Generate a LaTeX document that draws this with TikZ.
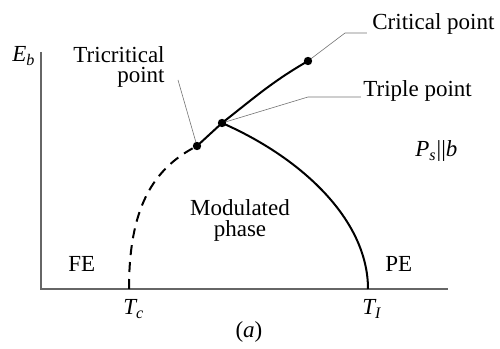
\documentclass[tikz,border=0pt]{standalone}
\usepackage{amsmath}
\usepackage{fontspec}
\setmainfont{Liberation Serif}
\usepackage{tikz}

\begin{document}
\begin{tikzpicture}[x=0.5pt,y=0.5pt,every node/.style={font=\fontsize{11.5}{10}\selectfont,inner sep=0pt},
  axis/.style={black!60,line width=0.6pt},
  phaseline/.style={line width=1pt},
  leader/.style={black!55,line width=0.3pt}]
  \useasboundingbox (0,0) rectangle (500,349);
  \coordinate (o) at (41,60);
  \coordinate (ytop) at (41,297);
  \coordinate (xend) at (448,60);
  \coordinate (tc) at (129,60);
  \coordinate (ti) at (368,60);
  \coordinate (tri) at (197,203);
  \coordinate (trip) at (222,226);
  \coordinate (crit) at (308,288);
  \coordinate (critA) at (345,316);
  \coordinate (critB) at (367,316);
  \coordinate (tripA) at (308,252);
  \coordinate (tripB) at (361,252);
  \coordinate (triA) at (178,269);
  \draw[axis] (ytop) -- (o) -- (xend);
  \draw[phaseline,dashed,dash pattern=on 5pt off 3.5pt] (tc) .. controls (129,140) and (152,180) .. (tri);
  \draw[phaseline] (tri) -- (trip) to[out=38,in=210] (crit);
  \draw[phaseline] (trip) .. controls (300,192) and (368,130) .. (ti);
  \draw[leader] (crit) -- (critA) -- (critB);
  \draw[leader] (trip) -- (tripA) -- (tripB);
  \draw[leader] (tri) -- (triA);
  \fill (tri) circle (2.1pt);
  \fill (trip) circle (2.1pt);
  \fill (crit) circle (2.1pt);
  \node[anchor=base west] (critlbl) at (372,319) {Critical point};
  \node[anchor=base west] (triplbl) at (363,252) {Triple point};
  \node[anchor=base east,align=right] (trilbl) at (165,266) {Tricritical\\point};
  \node[anchor=base west] (eb) at (12,287) {$\textit{E}_{\textit{b}}$};
  \node[anchor=base west] (ps) at (415,192) {$\textit{P}_{\textit{s}}$\textbar\textbar\textit{b}};
  \node[anchor=base west] (fe) at (68,77) {FE};
  \node[anchor=base west] (pe) at (385,77) {PE};
  \node[anchor=base,align=center,font=\fontsize{11.5}{10.5}\selectfont] (mod) at (240,112) {Modulated\\phase};
  \node[anchor=base west] (tclbl) at (123,34) {$\textit{T}_{\textit{c}}$};
  \node[anchor=base west] (tilbl) at (362,34) {$\textit{T}_{\textit{I}}$};
  \node[anchor=base] (alpha) at (249,11) {(\textit{a})};
\end{tikzpicture}
\end{document}
